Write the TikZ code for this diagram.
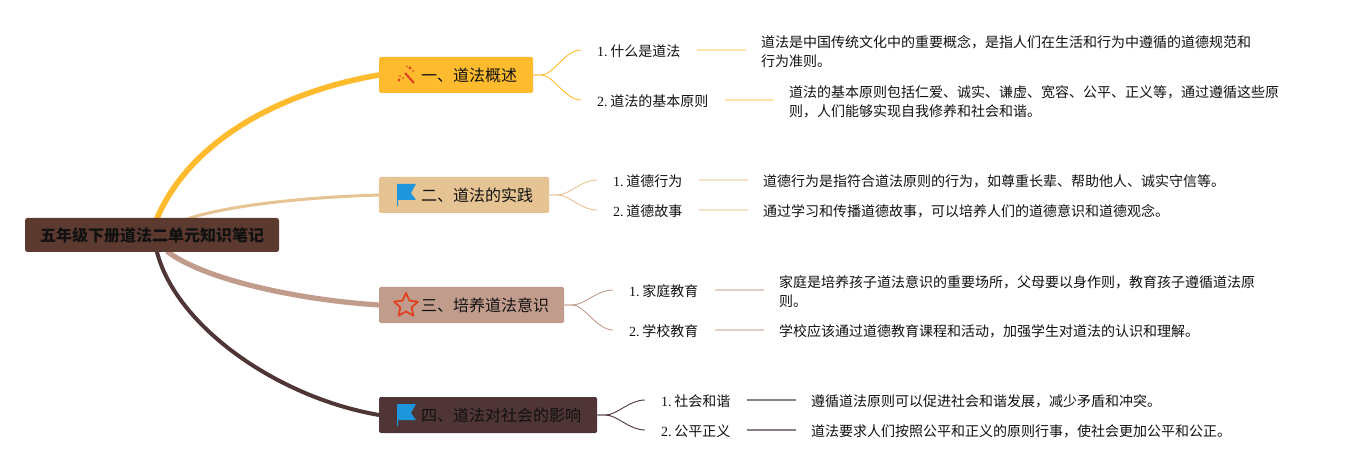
\documentclass[tikz,border=0pt]{standalone}
\usepackage{fontspec}
\setmainfont{Liberation Serif}
\newfontfamily\cjk{Noto Sans CJK SC}
\usetikzlibrary{calc,shapes.geometric,backgrounds}
\definecolor{cRoot}{HTML}{5D3A30}
\definecolor{cA}{HTML}{FEBB2E}
\definecolor{cB}{HTML}{E6C393}
\definecolor{cC}{HTML}{C19B8B}
\definecolor{cD}{HTML}{4F3535}
\definecolor{lA}{HTML}{FCE3AC}
\definecolor{lB}{HTML}{F3E1C8}
\definecolor{lC}{HTML}{E4CFC6}
\definecolor{lD}{HTML}{8A8080}
\definecolor{ink}{HTML}{111111}
\definecolor{flagblue}{HTML}{1E96DC}
\definecolor{sparkred}{HTML}{E0421F}
\tikzset{
  x=1pt,y=-1pt,
  rootbox/.style={fill=cRoot,rounded corners=2.5pt,minimum width=254pt,minimum height=34pt,inner sep=0pt,text=ink,font=\cjk\fontsize{16}{20}\selectfont\bfseries},
  branchbox/.style={rounded corners=1.5pt,minimum height=36pt,inner sep=0pt,anchor=west,text=ink,font=\cjk\fontsize{16}{20}\selectfont},
  subtext/.style={anchor=west,inner ysep=0pt,inner xsep=16pt,text=ink,font=\fontsize{14}{18}\selectfont},
  detail/.style={anchor=west,inner ysep=0pt,inner xsep=15pt,align=left,text=ink,font=\cjk\fontsize{14}{19}\selectfont},
  link/.style={line width=0.9pt},
  rule/.style={line width=1.4pt},
}
\newcommand{\fork}[3]{\draw[link,#3] (#1.east) -- ($(#1.east)+(8,0)$) .. controls ($(#1.east)+(20,0)$) and ($(#2.west)+(-16,-1.5)$) .. ($(#2.west)+(0,-1.5)$);}
\newcommand{\numlabel}[2]{#1.\hspace{2.6pt}{\cjk #2}}
\newcommand{\ruleline}[3]{\draw[rule,#3] ($(#1.east)+(0,-1.5)$) -- ($(#1.east -| #2.west)+(0,-1.5)$);}
\begin{document}
\begin{tikzpicture}
\useasboundingbox (0,0) rectangle (1349,470);
% nodes
\node[rootbox] (root) at (152,235) {五年级下册道法二单元知识笔记};
\node[branchbox,fill=cA,minimum width=154pt,text width=154pt] (n1) at (379,75) {\hspace{42pt}一、道法概述};
\node[branchbox,fill=cB,minimum width=170pt,text width=170pt] (n2) at (379,195) {\hspace{42pt}二、道法的实践};
\node[branchbox,fill=cC,minimum width=185pt,text width=185pt] (n3) at (379,305) {\hspace{42pt}三、培养道法意识};
\node[branchbox,fill=cD,minimum width=218pt,text width=218pt] (n4) at (379,415) {\hspace{42pt}四、道法对社会的影响};
% sub-items
\node[subtext] (s11) at (581,51.5) {\numlabel{1}{什么是道法}};
\node[subtext] (s12) at (581,101.5) {\numlabel{2}{道法的基本原则}};
\node[subtext] (s21) at (597,181.5) {\numlabel{1}{道德行为}};
\node[subtext] (s22) at (597,211.5) {\numlabel{2}{道德故事}};
\node[subtext] (s31) at (613,291.5) {\numlabel{1}{家庭教育}};
\node[subtext] (s32) at (613,331.5) {\numlabel{2}{学校教育}};
\node[subtext] (s41) at (645,401.5) {\numlabel{1}{社会和谐}};
\node[subtext] (s42) at (645,431.5) {\numlabel{2}{公平正义}};
% details
\node[detail] (d11) at (746,52) {道法是中国传统文化中的重要概念，是指人们在生活和行为中遵循的道德规范和\\行为准则。};
\node[detail] (d12) at (774,101.5) {道法的基本原则包括仁爱、诚实、谦虚、宽容、公平、正义等，通过遵循这些原\\则，人们能够实现自我修养和社会和谐。};
\node[detail] (d21) at (748,181) {道德行为是指符合道法原则的行为，如尊重长辈、帮助他人、诚实守信等。};
\node[detail] (d22) at (748,211) {通过学习和传播道德故事，可以培养人们的道德意识和道德观念。};
\node[detail] (d31) at (764,292) {家庭是培养孩子道法意识的重要场所，父母要以身作则，教育孩子遵循道法原\\则。};
\node[detail] (d32) at (764,331) {学校应该通过道德教育课程和活动，加强学生对道法的认识和理解。};
\node[detail] (d41) at (796,401) {遵循道法原则可以促进社会和谐发展，减少矛盾和冲突。};
\node[detail] (d42) at (796,431) {道法要求人们按照公平和正义的原则行事，使社会更加公平和公正。};
% main branches, behind the boxes
\coordinate (ra) at ($(root.north west)+(132,1)$);
\coordinate (rb) at ($(root.north west)+(163,1)$);
\coordinate (rc) at ($(root.south west)+(142,-1)$);
\coordinate (rd) at ($(root.south west)+(132,-1)$);
\begin{scope}[on background layer]
\draw[cA,line width=5.6pt] (ra) .. controls ($(ra)+(33,-78)$) and ($(n1.west)+(-99,17)$) .. (n1.west);
\draw[cB,line width=3pt] (rb) .. controls ($(rb)+(42,-14)$) and ($(n2.west)+(-69,2)$) .. (n2.west);
\draw[cC,line width=5.2pt] (rc) .. controls ($(rc)+(38,29)$) and ($(n3.west)+(-79,-5)$) .. (n3.west);
\draw[cD,line width=4pt] (rd) .. controls ($(rd)+(18,73)$) and ($(n4.west)+(-104,-18)$) .. (n4.west);
\end{scope}
% forks
\fork{n1}{s11}{cA}\fork{n1}{s12}{cA}
\fork{n2}{s21}{cB}\fork{n2}{s22}{cB}
\fork{n3}{s31}{cC}\fork{n3}{s32}{cC}
\fork{n4}{s41}{cD}\fork{n4}{s42}{cD}
% rules
\ruleline{s11}{d11}{lA}
\ruleline{s12}{d12}{lA}
\ruleline{s21}{d21}{lB}
\ruleline{s22}{d22}{lB}
\ruleline{s31}{d31}{lC}
\ruleline{s32}{d32}{lC}
\ruleline{s41}{d41}{lD}
\ruleline{s42}{d42}{lD}
% icons
\foreach \yy in {184,404}{
  \fill[flagblue] (397,\yy) -- (416,\yy) -- (411,\yy+9) -- (416,\yy+16) -- (398,\yy+16) -- (398,\yy+22) -- (397,\yy+22) -- cycle;
}
\node[star,star points=5,star point ratio=2.1,draw=sparkred,line width=1.8pt,line join=round,minimum size=25pt,inner sep=0pt,fill=none] (staricon) at (406,305.5) {};
\draw[sparkred,line width=2pt] (405,73) -- (414,83);
\fill[sparkred] (399,80) circle (1.6pt) (410,68) circle (1.6pt) (403,78) circle (0.9pt) (407,66.5) circle (0.9pt) (413,71) circle (1pt) (400,76) circle (0.8pt);
\end{tikzpicture}
\end{document}
